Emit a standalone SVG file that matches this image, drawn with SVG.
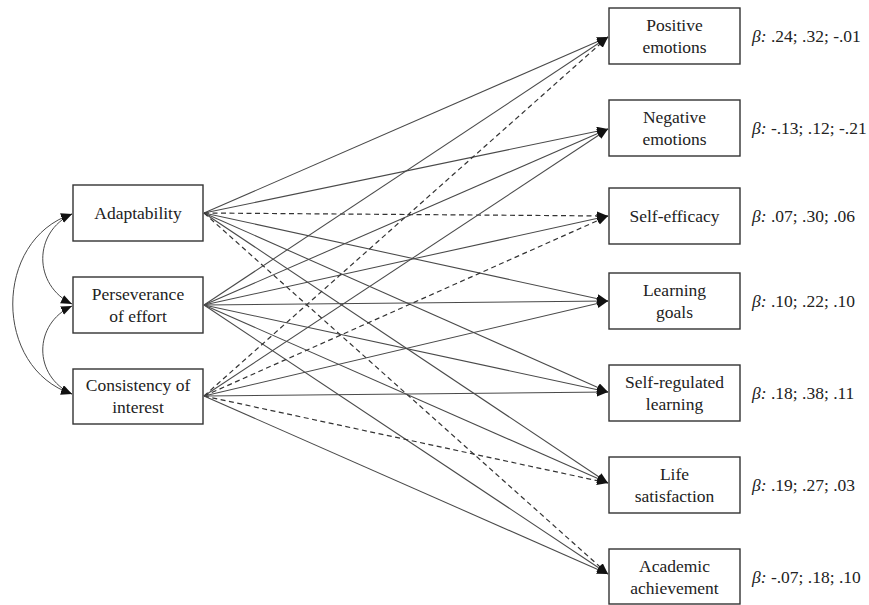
<svg xmlns="http://www.w3.org/2000/svg" width="869" height="605" viewBox="0 0 869 605" font-family="Liberation Serif, Times New Roman, DejaVu Serif, serif">
<style>
.box{fill:#fff;stroke:#333;stroke-width:1.4}
.t{font-size:17.5px;fill:#222;text-anchor:middle}
.b{font-size:17.5px;fill:#222}
.e{fill:none;stroke:#4a4a4a;stroke-width:1.05;marker-end:url(#ah)}
.d{stroke-dasharray:5,3.5;stroke:#333;stroke-width:1.2}
.c{fill:none;stroke:#4a4a4a;stroke-width:1;marker-start:url(#ah2);marker-end:url(#ah2)}
</style>
<defs>
<marker id="ah" markerUnits="userSpaceOnUse" markerWidth="12" markerHeight="10" refX="11" refY="4.5" orient="auto"><path d="M0,0 L11,4.5 L0,9 z" fill="#111"/></marker>
<marker id="ah2" markerUnits="userSpaceOnUse" markerWidth="12" markerHeight="10" refX="11" refY="4.5" orient="auto-start-reverse"><path d="M0,0 L11,4.5 L0,9 z" fill="#111"/></marker>
</defs>
<rect width="869" height="605" fill="#fff"/>
<g id="connectors">
<path class="e" d="M204,213 L608,37"/>
<path class="e" d="M204,213 L608,129"/>
<path class="e d" d="M204,213 L608,216"/>
<path class="e" d="M204,213 L608,301"/>
<path class="e" d="M204,213 L608,392"/>
<path class="e" d="M204,213 L608,483"/>
<path class="e d" d="M204,213 L608,574"/>
<path class="e" d="M204,305 L608,37"/>
<path class="e" d="M204,305 L608,129"/>
<path class="e" d="M204,305 L608,216"/>
<path class="e" d="M204,305 L608,301"/>
<path class="e" d="M204,305 L608,392"/>
<path class="e" d="M204,305 L608,483"/>
<path class="e" d="M204,305 L608,574"/>
<path class="e d" d="M204,396 L608,37"/>
<path class="e" d="M204,396 L608,129"/>
<path class="e d" d="M204,396 L608,216"/>
<path class="e" d="M204,396 L608,301"/>
<path class="e" d="M204,396 L608,392"/>
<path class="e d" d="M204,396 L608,483"/>
<path class="e" d="M204,396 L608,574"/>
<path class="c" d="M72,214 C33,232 33,285 72,304"/>
<path class="c" d="M72,306 C33,324 33,376 72,394"/>
<path class="c" d="M72,214 C-7,240 -7,368 72,394"/>
</g>
<g id="adaptability"><rect class="box" x="73" y="185" width="130" height="56"/><text class="t" x="138" y="219">Adaptability</text></g>
<g id="perseverance"><rect class="box" x="73" y="277" width="130" height="56"/><text class="t" x="138" y="300">Perseverance</text><text class="t" x="138" y="322">of effort</text></g>
<g id="consistency"><rect class="box" x="73" y="369" width="130" height="55"/><text class="t" x="138" y="391">Consistency of</text><text class="t" x="138" y="413">interest</text></g>
<g id="positive"><rect class="box" x="609" y="8" width="131" height="56"/><text class="t" x="674.5" y="31">Positive</text><text class="t" x="674.5" y="53">emotions</text><text class="b" x="752" y="42"><tspan font-style="italic">β:</tspan> .24; .32; -.01</text></g>
<g id="negative"><rect class="box" x="609" y="100" width="131" height="56"/><text class="t" x="674.5" y="123">Negative</text><text class="t" x="674.5" y="145">emotions</text><text class="b" x="752" y="134"><tspan font-style="italic">β:</tspan> -.13; .12; -.21</text></g>
<g id="selfefficacy"><rect class="box" x="609" y="188" width="131" height="56"/><text class="t" x="674.5" y="222">Self-efficacy</text><text class="b" x="752" y="222"><tspan font-style="italic">β:</tspan> .07; .30; .06</text></g>
<g id="learning"><rect class="box" x="609" y="273" width="131" height="56"/><text class="t" x="674.5" y="296">Learning</text><text class="t" x="674.5" y="318">goals</text><text class="b" x="752" y="307"><tspan font-style="italic">β:</tspan> .10; .22; .10</text></g>
<g id="selfregulated"><rect class="box" x="609" y="365" width="131" height="56"/><text class="t" x="674.5" y="388">Self-regulated</text><text class="t" x="674.5" y="410">learning</text><text class="b" x="752" y="399"><tspan font-style="italic">β:</tspan> .18; .38; .11</text></g>
<g id="life"><rect class="box" x="609" y="457" width="131" height="56"/><text class="t" x="674.5" y="480">Life</text><text class="t" x="674.5" y="502">satisfaction</text><text class="b" x="752" y="491"><tspan font-style="italic">β:</tspan> .19; .27; .03</text></g>
<g id="academic"><rect class="box" x="609" y="549" width="131" height="55"/><text class="t" x="674.5" y="572">Academic</text><text class="t" x="674.5" y="594">achievement</text><text class="b" x="752" y="583"><tspan font-style="italic">β:</tspan> -.07; .18; .10</text></g>
</svg>
